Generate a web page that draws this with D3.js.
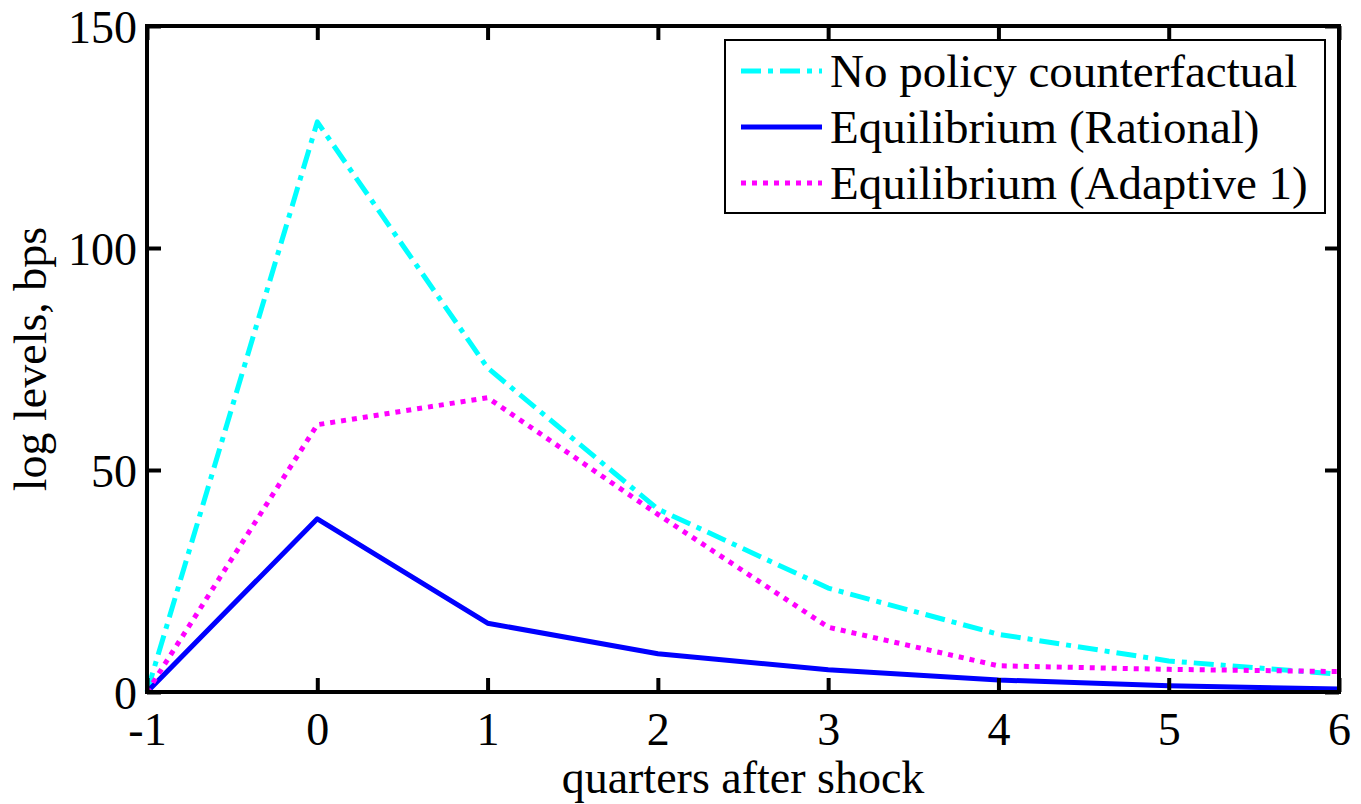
<!DOCTYPE html>
<html><head><meta charset="utf-8">
<script src="https://cdn.jsdelivr.net/npm/d3@7"></script>
<style>
html,body{margin:0;padding:0;background:#fff;}
svg text{font-family:"Liberation Serif","Times New Roman",serif;fill:#000;}
</style></head>
<body>
<svg id="c" width="1361" height="804"></svg>
<script>
const quarters = [-1, 0, 1, 2, 3, 4, 5, 6];
const noPolicy = [0, 128.4, 73.0, 41.2, 23.4, 13.0, 7.0, 4.0];
const rational = [0, 39.0, 15.5, 8.6, 5.0, 2.7, 1.4, 0.7];
const adaptive1 = [0, 60.2, 66.3, 40.0, 14.6, 5.9, 5.1, 4.6];
const xTicks = [-1, 0, 1, 2, 3, 4, 5, 6];
const yTicks = [0, 50, 100, 150];
const seriesNames = ["No policy counterfactual", "Equilibrium (Rational)", "Equilibrium (Adaptive 1)"];

const svg = d3.select("#c");
const m = {l:147, r:1339, t:26, b:692};
const x = d3.scaleLinear().domain([-1, 6]).range([m.l, m.r]);
const y = d3.scaleLinear().domain([0, 150]).range([m.b, m.t]);

const series = [
  {name: seriesNames[0], vals: noPolicy, color: "#00ffff", dash: "20,7,5,7"},
  {name: seriesNames[1], vals: rational, color: "#0000ff", dash: null},
  {name: seriesNames[2], vals: adaptive1, color: "#ff00ff", dash: "5,6"}
];

const line = d3.line().x((d,i)=>x(quarters[i])).y(d=>y(d));
series.forEach(s=>{
  svg.append("path").datum(s.vals).attr("d", line)
    .attr("fill","none").attr("stroke", s.color).attr("stroke-width",5)
    .attr("stroke-dasharray", s.dash).attr("stroke-linejoin","round");
});

// axes (box with inward ticks)
const tl = 14;
const fmt = d => String(d);
const axB = svg.append("g").attr("transform",`translate(0,${m.b})`)
  .call(d3.axisBottom(x).tickValues(xTicks).tickSize(-tl).tickPadding(20).tickFormat(fmt));
const axT = svg.append("g").attr("transform",`translate(0,${m.t})`)
  .call(d3.axisTop(x).tickValues(xTicks).tickSize(-tl).tickFormat(""));
const axL = svg.append("g").attr("transform",`translate(${m.l},0)`)
  .call(d3.axisLeft(y).tickValues(yTicks).tickSize(-tl).tickPadding(10).tickFormat(fmt));
const axR = svg.append("g").attr("transform",`translate(${m.r},0)`)
  .call(d3.axisRight(y).tickValues(yTicks).tickSize(-tl).tickFormat(""));
[axB,axT,axL,axR].forEach(a=>{
  a.select(".domain").remove();
  a.selectAll(".tick line").attr("stroke","#000").attr("stroke-width",4);
  a.selectAll(".tick text").style("font-size","46px").style("font-family",'"Liberation Serif",serif');
});
axB.selectAll(".tick text").attr("dy","0.71em");
axL.selectAll(".tick text").attr("dy","0.36em");

svg.append("rect").attr("x",m.l).attr("y",m.t).attr("width",m.r-m.l).attr("height",m.b-m.t)
  .attr("fill","none").attr("stroke","#000").attr("stroke-width",4);

// axis labels
svg.append("text").attr("x",(m.l+m.r)/2).attr("y",793).attr("text-anchor","middle")
  .style("font-size","46px").text("quarters after shock");
svg.append("text").attr("transform",`translate(46,${(m.t+m.b)/2}) rotate(-90)`).attr("text-anchor","middle")
  .style("font-size","46px").text("log levels, bps");

// legend
const lg = svg.append("g");
lg.append("rect").attr("x",725).attr("y",40).attr("width",600).attr("height",173)
  .attr("fill","#fff").attr("stroke","#000").attr("stroke-width",2);
series.forEach((s,i)=>{
  const cy = 71 + i*56;
  lg.append("line").attr("x1",741).attr("x2",822).attr("y1",cy).attr("y2",cy)
    .attr("stroke",s.color).attr("stroke-width",5).attr("stroke-dasharray",s.dash);
  lg.append("text").attr("x",830).attr("y",cy).attr("dy","0.35em").style("font-size","47px").text(s.name);
});
</script>
</body></html>
